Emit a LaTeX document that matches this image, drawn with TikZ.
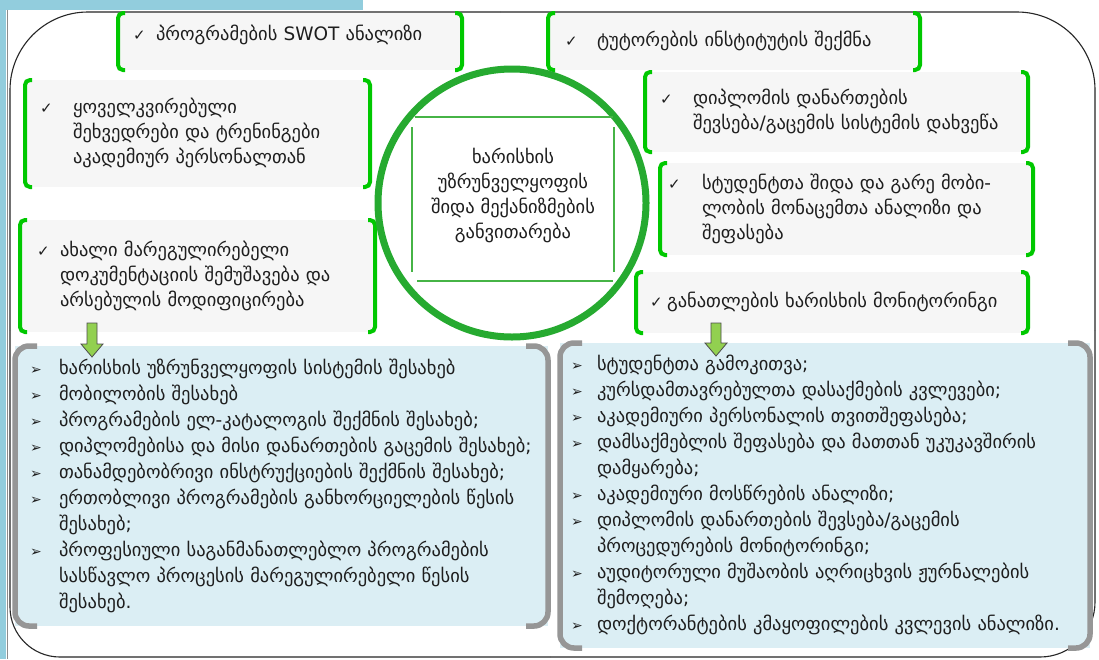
\documentclass[tikz,border=0pt]{standalone}
\usepackage{fontspec}
\setmainfont{DejaVu Sans}
\usetikzlibrary{calc}
\definecolor{stripblue}{RGB}{146,205,221}
\definecolor{boxgray}{RGB}{246,246,246}
\definecolor{brgreen}{RGB}{0,200,0}
\definecolor{cgreen}{RGB}{38,170,48}
\definecolor{sqgreen}{RGB}{70,180,70}
\definecolor{lblue}{RGB}{219,238,244}
\definecolor{bgray}{RGB}{150,150,150}
\definecolor{arrgreen}{RGB}{146,208,80}
\definecolor{txt}{RGB}{30,30,30}
\newcommand\gtxt{\fontsize{18.5}{25}\selectfont}
\newcommand\ltxt{\fontsize{18.5}{26}\selectfont}
\newcommand\ckm{{\fontsize{15}{15}\selectfont ✓}}
\newcommand\bul{{\fontsize{14}{14}\selectfont ➢}}
\newcommand\ckbox[2]{\begin{tabular}{@{}p{#1}@{}l@{}}\ckm & #2\end{tabular}}
\newcommand\gbrk[1]{%
  \draw[gbr] ($(#1.north west)+(7,0)$) -- (#1.north west) -- (#1.south west) -- ($(#1.south west)+(7,0)$);
  \draw[gbr] ($(#1.north east)+(-7,0)$) -- (#1.north east) -- (#1.south east) -- ($(#1.south east)+(-7,0)$);}
\newcommand\gybrk[1]{%
  \draw[gybr] ($(#1.north west)+(22,0)$) -- (#1.north west) -- (#1.south west) -- ($(#1.south west)+(22,0)$);
  \draw[gybr] ($(#1.north east)+(-22,0)$) -- (#1.north east) -- (#1.south east) -- ($(#1.south east)+(-22,0)$);}
\newcommand\barrow[2]{%
  \draw[barr] let \p1=(#1), \p2=(#2) in
    (\x1-5pt,\y1) -- (\x1+5pt,\y1) -- (\x1+5pt,\y2+13pt) -- (\x1+11pt,\y2+13pt)
    -- (\x2,\y2) -- (\x1-11pt,\y2+13pt) -- (\x1-5pt,\y2+13pt) -- cycle;}
\tikzset{
  gbox/.style={fill=boxgray, anchor=north west, inner ysep=0pt, outer sep=0pt, align=left, font=\gtxt, text=txt},
  gbr/.style={draw=brgreen, line width=4pt, rounded corners=5pt},
  lbox/.style={fill=lblue, anchor=north west, inner ysep=0pt, outer sep=0pt, align=left, font=\ltxt, text=txt},
  gybr/.style={draw=bgray, line width=5.5pt, rounded corners=14pt},
  barr/.style={fill=arrgreen, draw=black!70, line width=0.8pt},
  sqline/.style={draw=sqgreen, line width=1.6pt},
  frame/.style={draw=black!85, line width=1.1pt},
}
\begin{document}
\begin{tikzpicture}[x=1pt,y=-1pt]
\useasboundingbox (0,0) rectangle (1099,659);
\fill[white] (0,0) rectangle (1099,659);
\fill[stripblue] (0,0) rectangle (363,9.5);
\fill[stripblue] (0,0) rectangle (6,659);
\draw[black!45, line width=0.8pt] (7.5,9.5) -- (7.5,659);
% outer frame
\draw[frame, rounded corners=78pt] (500,12) -- (10,12) -- (10,330);
\draw[frame, rounded corners=50pt] (10,330) -- (10,657) -- (550,657);
\draw[frame, rounded corners=55pt] (550,657) -- (1095,657) -- (1095,330);
\draw[frame, rounded corners=78pt] (1095,330) -- (1095,12) -- (500,12);
% top boxes
\node[gbox, minimum width=344pt, minimum height=57pt, inner xsep=15pt, text width=314pt, text depth=20pt] (b1) at (118,13)
  {\ckbox{23pt}{პროგრამების SWOT ანალიზი}};
\node[gbox, minimum width=372pt, minimum height=57pt, inner xsep=17pt, text width=338pt] (b2) at (548,13)
  {\ckbox{32pt}{ტუტორების ინსტიტუტის შექმნა}};
\node[gbox, minimum width=345pt, minimum height=107pt, inner xsep=15pt, text width=315pt] (b3) at (25,80)
  {\ckbox{33pt}{ყოველკვირებული\\ & შეხვედრები და ტრენინგები\\ & აკადემიურ პერსონალთან}};
\node[gbox, minimum width=383pt, minimum height=80pt, inner xsep=15pt, text width=353pt] (b4) at (645,72)
  {\ckbox{33pt}{დიპლომის დანართების\\ & შევსება/გაცემის სისტემის დახვეწა}};
\node[gbox, minimum width=373pt, minimum height=92pt, inner xsep=8pt, text width=357pt] (b5) at (660,163)
  {\ckbox{34pt}{სტუდენტთა შიდა და გარე მობი-\\ & ლობის მონაცემთა ანალიზი და\\ & შეფასება}};
\node[gbox, minimum width=355pt, minimum height=112pt, inner xsep=17pt, text width=321pt] (b6) at (20,220)
  {\ckbox{23pt}{ახალი მარეგულირებელი\\ & დოკუმენტაციის შემუშავება და\\ & არსებულის მოდიფიცირება}};
\node[gbox, minimum width=392pt, minimum height=61pt, inner xsep=14pt, text width=364pt] (b7) at (636,272)
  {\ckbox{17pt}{განათლების ხარისხის მონიტორინგი}};
\gbrk{b1}\gbrk{b2}\gbrk{b3}\gbrk{b4}\gbrk{b5}\gbrk{b6}\gbrk{b7}
% centre
\node[circle, draw=cgreen, fill=white, line width=7pt, minimum size=268pt, inner sep=0pt] (circ) at (512,203) {};
\draw[sqline] (415,117) -- (613,117);
\draw[sqline] (417,281) -- (613,281);
\draw[sqline] (412,127) -- (412,272);
\draw[sqline] (614,127) -- (614,272);
\node[font=\gtxt, align=center, text=txt] (ctr) at (513,195)
  {ხარისხის\\უზრუნველყოფის\\შიდა მექანიზმების\\განვითარება};
% bottom lists
\node[lbox, minimum width=533pt, minimum height=280pt, inner xsep=15pt, text width=503pt] (L) at (15,346)
  {\begin{tabular}{@{}p{29pt}@{}l@{}}
  \bul & ხარისხის უზრუნველყოფის სისტემის შესახებ\\
  \bul & მობილობის შესახებ\\
  \bul & პროგრამების ელ-კატალოგის შექმნის შესახებ;\\
  \bul & დიპლომებისა და მისი დანართების გაცემის შესახებ;\\
  \bul & თანამდებობრივი ინსტრუქციების შექმნის შესახებ;\\
  \bul & ერთობლივი პროგრამების განხორციელების წესის\\
       & შესახებ;\\
  \bul & პროფესიული საგანმანათლებლო პროგრამების\\
       & სასწავლო პროცესის მარეგულირებელი წესის\\
       & შესახებ.
  \end{tabular}};
\node[lbox, minimum width=530pt, minimum height=305pt, inner xsep=11pt, text width=508pt] (R) at (560,343)
  {\begin{tabular}{@{}p{26pt}@{}l@{}}
  \bul & სტუდენტთა გამოკითვა;\\
  \bul & კურსდამთავრებულთა დასაქმების კვლევები;\\
  \bul & აკადემიური პერსონალის თვითშეფასება;\\
  \bul & დამსაქმებლის შეფასება და მათთან უკუკავშირის\\
       & დამყარება;\\
  \bul & აკადემიური მოსწრების ანალიზი;\\
  \bul & დიპლომის დანართების შევსება/გაცემის\\
       & პროცედურების მონიტორინგი;\\
  \bul & აუდიტორული მუშაობის აღრიცხვის ჟურნალების\\
       & შემოღება;\\
  \bul & დოქტორანტების კმაყოფილების კვლევის ანალიზი.
  \end{tabular}};
\gybrk{L}\gybrk{R}
% arrows
\coordinate (a1s) at (92,323); \coordinate (a1e) at (92,357);
\coordinate (a2s) at (716,323); \coordinate (a2e) at (716,356);
\barrow{a1s}{a1e}
\barrow{a2s}{a2e}
\end{tikzpicture}
\end{document}
